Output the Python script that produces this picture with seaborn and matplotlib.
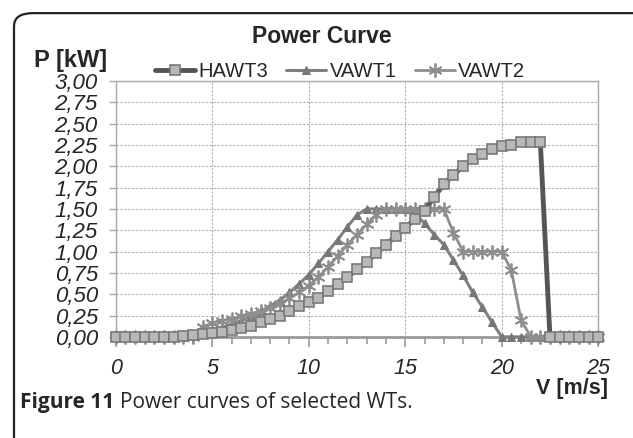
import pandas as pd
import matplotlib.pyplot as plt
import seaborn as sns
from matplotlib.patches import FancyBboxPatch
from matplotlib.ticker import MultipleLocator, FuncFormatter

# wind speed [m/s]
speed = [0, 0.5, 1, 1.5, 2, 2.5, 3, 3.5, 4, 4.5, 5, 5.5, 6, 6.5, 7, 7.5, 8, 8.5, 9, 9.5,
         10, 10.5, 11, 11.5, 12, 12.5, 13, 13.5, 14, 14.5, 15, 15.5, 16, 16.5, 17, 17.5,
         18, 18.5, 19, 19.5, 20, 20.5, 21, 21.5, 22, 22.5, 23, 23.5, 24, 24.5, 25]

# power [kW]
hawt3 = [0, 0, 0, 0, 0, 0, 0, 0.01, 0.02, 0.03, 0.05, 0.06, 0.08, 0.10, 0.13, 0.17, 0.21,
         0.25, 0.30, 0.36, 0.41, 0.46, 0.54, 0.62, 0.70, 0.79, 0.88, 0.98, 1.08, 1.18, 1.28,
         1.38, 1.48, 1.64, 1.79, 1.90, 2.00, 2.09, 2.15, 2.20, 2.24, 2.25, 2.29, 2.29, 2.29,
         0, 0, 0, 0, 0, 0]
vawt1 = [0, 0, 0, 0, 0, 0, 0, 0, 0.02, 0.05, 0.08, 0.11, 0.15, 0.19, 0.24, 0.30, 0.36,
         0.43, 0.52, 0.62, 0.73, 0.86, 1.00, 1.14, 1.29, 1.43, 1.50, 1.50, 1.50, 1.50, 1.50,
         1.45, 1.33, 1.20, 1.08, 0.90, 0.72, 0.52, 0.35, 0.17, 0, 0, 0, 0, 0, 0, 0, 0, 0, 0, 0]
vawt2 = [0, 0, 0, 0, 0, 0, 0, 0, 0, 0.12, 0.16, 0.19, 0.21, 0.24, 0.27, 0.30, 0.34, 0.39,
         0.45, 0.52, 0.60, 0.70, 0.82, 0.95, 1.08, 1.20, 1.32, 1.43, 1.50, 1.50, 1.50, 1.50,
         1.50, 1.50, 1.50, 1.22, 1.00, 1.00, 1.00, 1.00, 1.00, 0.78, 0.20, 0, 0, 0, 0, 0, 0, 0, 0]

df = pd.DataFrame({'V': speed, 'HAWT3': hawt3, 'VAWT1': vawt1, 'VAWT2': vawt2})

sns.set_style('white')
plt.rcParams['font.family'] = ['Liberation Sans', 'DejaVu Sans']

fig = plt.figure(figsize=(6.33, 4.38), dpi=100)
ax = fig.add_axes([0.183, 0.231, 0.762, 0.584])

sns.lineplot(data=df, x='V', y='HAWT3', ax=ax, color='#555555', lw=3.5,
             marker='s', markersize=7.2, markerfacecolor='#b8b8b8', markeredgecolor='#7a7a7a',
             markeredgewidth=1.2, label='HAWT3', clip_on=False, zorder=4)
sns.lineplot(data=df, x='V', y='VAWT1', ax=ax, color='#808080', lw=2.2,
             marker='^', markersize=6, markerfacecolor='#777777', markeredgecolor='#777777',
             label='VAWT1', clip_on=False, zorder=3)
sns.lineplot(data=df, x='V', y='VAWT2', ax=ax, color='#8e8e8e', lw=2.0,
             marker=(6, 2, 0), markersize=10, markeredgewidth=1.3, markeredgecolor='#8e8e8e',
             label='VAWT2', clip_on=False, zorder=3)

ax.set_xlim(0, 25)
ax.set_ylim(0, 3)
ax.xaxis.set_major_locator(MultipleLocator(5))
ax.xaxis.set_minor_locator(MultipleLocator(1))
ax.yaxis.set_major_locator(MultipleLocator(0.25))
ax.yaxis.set_major_formatter(FuncFormatter(lambda v, p: f'{v:.2f}'.replace('.', ',')))
ax.grid(True, which='major', color='#b0b0b0', linestyle=(0, (2, 1.5)), lw=0.8)
ax.set_xlabel('')
ax.set_ylabel('')

for s in ax.spines.values():
    s.set_color('#a8a8a8')
    s.set_linewidth(1.0)
ax.spines['bottom'].set_linewidth(2.0)
ax.spines['bottom'].set_color('#9a9a9a')

ax.tick_params(axis='x', which='major', length=7, width=1.2, color='#9a9a9a', pad=8,
               labelsize=15.5, bottom=True)
ax.tick_params(axis='x', which='minor', length=5, width=1.2, color='#9a9a9a', bottom=True)
ax.tick_params(axis='y', length=5, width=1.0, color='#a8a8a8', pad=8, labelsize=16, left=True)
for lab in ax.get_xticklabels() + ax.get_yticklabels():
    lab.set_fontstyle('italic')

ax.legend(loc='center', bbox_to_anchor=(0.537, 0.836), bbox_transform=fig.transFigure,
          ncol=3, frameon=False, fontsize=14.5, handlelength=2.0, handletextpad=0.15,
          columnspacing=0.9, borderaxespad=0, borderpad=0)

fig.text(0.509, 0.916, 'Power Curve', ha='center', va='center', fontsize=16.5, fontweight='bold')
fig.text(0.112, 0.861, 'P [kW]', ha='center', va='center', fontsize=17, fontweight='bold')
fig.text(0.961, 0.112, 'V [m/s]', ha='right', va='center', fontsize=15.5, fontweight='bold')

# caption: bold lead then regular text
cap1 = fig.text(0.032, 0.08, 'Figure 11', ha='left', va='center', fontsize=15,
                fontweight='bold', family='Open Sans')
fig.canvas.draw()
bb = cap1.get_window_extent()
x2 = (bb.x1 + 5) / fig.bbox.width
fig.text(x2, 0.08, 'Power curves of selected WTs.', ha='left', va='center', fontsize=15,
         family='Open Sans')

box = FancyBboxPatch((14 / 633, -0.2), 1.2, 0.97 + 0.2, transform=fig.transFigure,
                     boxstyle='round,pad=0,rounding_size=0.03', fill=False,
                     edgecolor='#222222', lw=1.6, clip_on=False)
fig.patches.append(box)

plt.savefig('out.png', dpi=100)
